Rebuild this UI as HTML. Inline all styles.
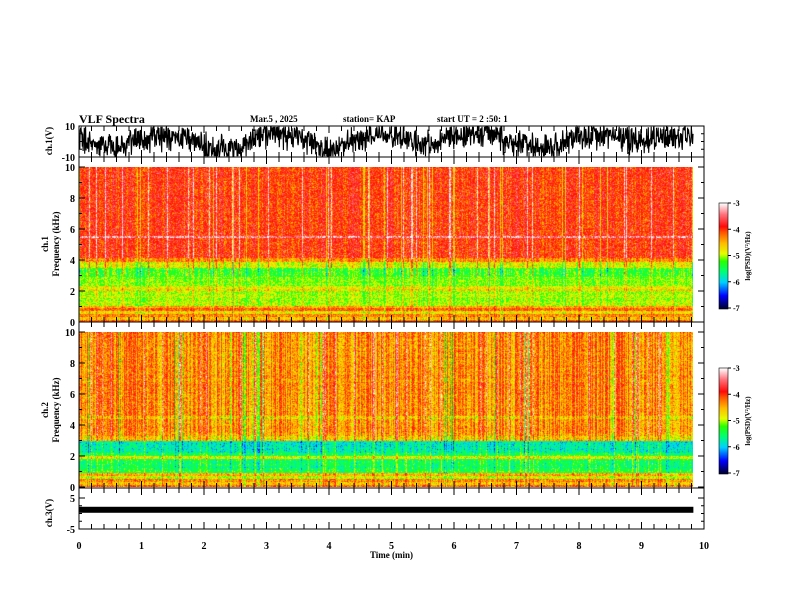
<!DOCTYPE html>
<html><head><meta charset="utf-8">
<style>
body{margin:0;background:#fff;}
#wrap{position:relative;width:792px;height:612px;overflow:hidden;background:#fff;font-family:"Liberation Serif",serif;}
.t{position:absolute;font-size:10px;font-weight:bold;color:#000;white-space:nowrap;}
canvas{position:absolute;}
svg{position:absolute;left:0;top:0;}
</style></head>
<body>
<div id="wrap">
<div class="t" style="left:79px;top:112px;font-size:12px">VLF Spectra</div>
<div class="t" style="left:250px;top:114px;font-size:9px">Mar.5 , 2025</div>
<div class="t" style="left:343px;top:114px;font-size:9px">station= KAP</div>
<div class="t" style="left:437px;top:114px;font-size:9px">start UT = 2 :50: 1</div>
<canvas id="sp1" width="614" height="155" style="left:79px;top:167px"></canvas>
<canvas id="sp2" width="614" height="155" style="left:79px;top:332px"></canvas>
<canvas id="cb1" width="9" height="106" style="left:719px;top:203px"></canvas>
<canvas id="cb2" width="9" height="106" style="left:719px;top:368px"></canvas>
<svg id="ov" width="792" height="612"></svg>
</div>
<script>
// ---- data ----
const timeTicks=[0,1,2,3,4,5,6,7,8,9,10];
const freqTicks=[0,2,4,6,8,10];
const cbTicks=[-3,-4,-5,-6,-7];
// ch1 mean log PSD per frequency band (kHz upper edge, level)
const ch1BandEdges=[0.15,0.3,0.5,0.7,0.9,1.0,2.0,2.1,2.3,2.9,3.5,3.9,4.1,5.45,5.55,10];
const ch1BandLevels=[-4.1,-4.6,-4.3,-4.7,-4.2,-4.5,-5.0,-4.6,-4.85,-5.1,-5.25,-4.8,-4.3,-3.95,-3.4,-3.95];
const ch2BandEdges=[0.15,0.3,0.5,0.7,0.9,1.1,1.8,2.0,2.2,3.0,3.3,3.5,4.4,4.6,10];
const ch2BandLevels=[-4.2,-4.6,-4.3,-4.9,-4.5,-5.35,-5.5,-4.8,-5.45,-5.75,-4.6,-4.4,-4.35,-4.6,-4.3];
// ch1 waveform slow component (V) every 0.5 min
const ch1Slow=[1,-2,1,3,-2,-3,4,2,-3,1,3,-2,2,4,-1,-3,2,3,0,2];
const ch3Level=1.2;
const cmapT=[0,0.12,0.25,0.35,0.45,0.52,0.62,0.72,0.78,0.9,1];
const cmapC=[[0,0,50],[0,0,255],[0,210,255],[0,255,120],[40,255,0],[230,255,0],[255,190,0],[255,90,0],[255,10,10],[255,120,130],[255,255,255]];
// ---- helpers ----
const X0=79,X1=704,TMAX=9.83;
function xs(t){return X0+(X1-X0)*t/10;}
function hash(a,b){let h=(a*374761393+b*668265263)^0x5bd1e995;h=(h^(h>>>13))*1274126177;h=h^(h>>>16);return ((h>>>0)%10000)/10000;}
function cmap(v){let t=(v+7)/4;t=Math.max(0,Math.min(1,t));for(let i=1;i<cmapT.length;i++){if(t<=cmapT[i]){const f=(t-cmapT[i-1])/(cmapT[i]-cmapT[i-1]);const a=cmapC[i-1],b=cmapC[i];return[a[0]+(b[0]-a[0])*f,a[1]+(b[1]-a[1])*f,a[2]+(b[2]-a[2])*f];}}return cmapC[cmapC.length-1];}
function level(edges,levels,f){for(let i=0;i<edges.length;i++)if(f<=edges[i])return levels[i];return levels[levels.length-1];}
function drawSpec(id,edges,levels,seed,colAmp){
 const c=document.getElementById(id),ctx=c.getContext('2d');const W=c.width,H=c.height;
 const img=ctx.createImageData(W,H);
 const colOff=[];for(let x=0;x<W;x++){let r=hash(x,seed);colOff.push((r-0.5)*colAmp+(r>0.93?0.5:0)+(r<0.05?-0.4:0));}
 for(let y=0;y<H;y++){const f=10*(1-(y+0.5)/H);const base=level(edges,levels,f);const rowOff=(hash(y,seed+7)-0.5)*0.15;
  for(let x=0;x<W;x++){const n=(hash(x*131+y,seed+3)+hash(x,y+seed*11)-1)*0.5;
   const v=base+colOff[x]*(f>3?1:0.5)+rowOff+n;const col=cmap(v);const i=(y*W+x)*4;
   img.data[i]=col[0];img.data[i+1]=col[1];img.data[i+2]=col[2];img.data[i+3]=255;}}
 ctx.putImageData(img,0,0);
}
drawSpec('sp1',ch1BandEdges,ch1BandLevels,17,0.6);
drawSpec('sp2',ch2BandEdges,ch2BandLevels,29,0.9);
function drawCb(id){const c=document.getElementById(id),ctx=c.getContext('2d');for(let y=0;y<c.height;y++){const v=-3-4*y/(c.height-1);const col=cmap(v);ctx.fillStyle=`rgb(${col[0]|0},${col[1]|0},${col[2]|0})`;ctx.fillRect(0,y,c.width,1);}}
drawCb('cb1');drawCb('cb2');
// ---- svg overlay ----
const NS='http://www.w3.org/2000/svg',svg=document.getElementById('ov');
function el(tag,attrs,name){const e=document.createElementNS(NS,tag);for(const k in attrs)e.setAttribute(k,attrs[k]);
 
 
 svg.appendChild(e);return e;}
function txt(x,y,s,name,opts){const e=el('text',Object.assign({x:x,y:y,'font-family':'Liberation Serif, serif','font-size':10,'font-weight':'bold'},opts||{}),name);e.textContent=s;return e;}
const panels=[{top:126,bot:157,name:'ch1-wave'},{top:157,bot:322,name:'ch1-spec'},{top:322,bot:488,name:'ch2-spec'},{top:488,bot:529,name:'ch3-wave'}];
panels.forEach(p=>{el('rect',{x:X0,y:p.top,width:X1-X0,height:p.bot-p.top,fill:'none',stroke:'#000','stroke-width':1},p.name+'-frame');
 for(let t=0;t<=10.001;t+=0.2){const major=Math.abs(t-Math.round(t))<0.01;const L=major?7:5;const x=xs(t);
  el('line',{x1:x,y1:p.bot,x2:x,y2:p.bot-L,stroke:'#000'},'x-tick');el('line',{x1:x,y1:p.top,x2:x,y2:p.top+L,stroke:'#000'},'x-tick');}
});
// waveform ch1
(function(){let d='';const N=1500;for(let i=0;i<=N;i++){const t=TMAX*i/N;const k=t/0.5;const a=Math.floor(k),f=k-a;const s0=ch1Slow[Math.min(a,ch1Slow.length-1)],s1=ch1Slow[Math.min(a+1,ch1Slow.length-1)];
 let v=1.4*(s0+(s1-s0)*(0.5-0.5*Math.cos(Math.PI*f)))+(hash(i,5)+hash(i,9)-1)*11;v=Math.max(-9.5,Math.min(9.5,v));const y=141.5-v*15.5/10;d+=(i?'L':'M')+xs(t).toFixed(1)+' '+y.toFixed(1);}
 el('path',{d:d,fill:'none',stroke:'#000','stroke-width':1.1},'ch1-waveform');})();
// ch3 bar
(function(){const y=513.5-ch3Level*15.5/5;el('rect',{x:X0,y:y-3,width:xs(TMAX)-X0,height:6,fill:'#000'},'ch3-waveform');})();
// y ticks/labels
function yTicks(top,bot,vals,vmin,vmax,minor,name){vals.forEach(v=>{const y=bot-(v-vmin)/(vmax-vmin)*(bot-top);el('line',{x1:X0,y1:y,x2:X0+6,y2:y,stroke:'#000'},name+'-tick');el('line',{x1:X1,y1:y,x2:X1-6,y2:y,stroke:'#000'},name+'-tick');
 txt(X0-4,y+4,String(v),name+'-label',{'text-anchor':'end'});});
 for(let v=vmin;v<=vmax+1e-9;v+=minor){const y=bot-(v-vmin)/(vmax-vmin)*(bot-top);el('line',{x1:X0,y1:y,x2:X0+3,y2:y,stroke:'#000'},name+'-minor');el('line',{x1:X1,y1:y,x2:X1-3,y2:y,stroke:'#000'},name+'-minor');}}
yTicks(126,157,[10,-10],-10,10,5,'ch1-y');
yTicks(167,322,freqTicks,0,10,1,'ch1-freq');
yTicks(332,487,freqTicks,0,10,1,'ch2-freq');
yTicks(498,529,[5,-5],-5,5,2.5,'ch3-y');
timeTicks.forEach(t=>txt(xs(t),549,String(t),'time-tick-label',{'text-anchor':'middle'}));
txt(xs(5),558,'Time (min)','x-axis-title',{'text-anchor':'middle','font-size':9});
function vlab(x,y,s,name,fs){txt(0,0,s,name,{'text-anchor':'middle','font-size':fs||9,transform:`translate(${x},${y}) rotate(-90)`});}
vlab(52,141,'ch.1(V)','ch1-y-title');
vlab(48,244,'ch.1','ch1-y-title');vlab(59,244,'Frequency (kHz)','ch1-freq-title');
vlab(48,410,'ch.2','ch2-y-title');vlab(59,410,'Frequency (kHz)','ch2-freq-title');
vlab(52,513,'ch.3(V)','ch3-y-title');
[[203,'cb1'],[368,'cb2']].forEach(([top,n])=>{el('rect',{x:719,y:top,width:9,height:106,fill:'none',stroke:'#000','stroke-width':0.6},n+'-frame');
 cbTicks.forEach((v,i)=>{const y=top+i*105/4;el('line',{x1:728,y1:y,x2:731,y2:y,stroke:'#000'},n+'-tick');txt(733,y+3,String(v),n+'-label',{'font-size':8});});
 vlab(750,top+53,'log(PSD)(V²/Hz)',n+'-title',7);});
</script>
</body></html>
